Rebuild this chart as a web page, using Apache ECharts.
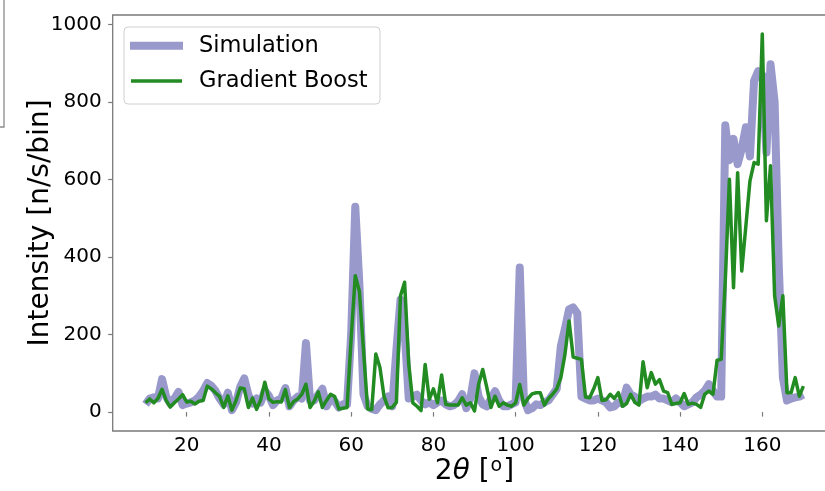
<!DOCTYPE html>
<html>
<head>
<meta charset="utf-8">
<script src="https://cdn.jsdelivr.net/npm/echarts@6/dist/echarts.min.js"></script>
<style>
  html, body { margin: 0; padding: 0; background: #ffffff; }
  #chart { width: 825px; height: 491px; }
</style>
</head>
<body>
<div id="chart"></div>
<script>
// Scattering angle 2θ (degrees)
const angles = [
  10, 11, 12, 13, 14, 15, 16, 17, 18, 19,
  20, 21, 22, 23, 24, 25, 26, 27, 28, 29,
  30, 31, 32, 33, 34, 35, 36, 37, 38, 39,
  40, 41, 42, 43, 44, 45, 46, 47, 48, 49,
  50, 51, 52, 53, 54, 55, 56, 57, 58, 59,
  60, 61, 62, 63, 64, 65, 66, 67, 68, 69,
  70, 71, 72, 73, 74, 75, 76, 77, 78, 79,
  80, 81, 82, 83, 84, 85, 86, 87, 88, 89,
  90, 91, 92, 93, 94, 95, 96, 97, 98, 99,
  100, 101, 102, 103, 104, 105, 106, 107, 108, 109,
  110, 111, 112, 113, 114, 115, 116, 117, 118, 119,
  120, 121, 122, 123, 124, 125, 126, 127, 128, 129,
  130, 131, 132, 133, 134, 135, 136, 137, 138, 139,
  140, 141, 142, 143, 144, 145, 146, 147, 148, 149,
  150, 151, 152, 153, 154, 155, 156, 157, 158, 159,
  160, 161, 162, 163, 164, 165, 166, 167, 168, 169,
  170
];

// Simulated intensity [n/s/bin]
const simulation = [
  20, 35, 38, 35, 85, 40, 22, 35, 52, 18,
  22, 25, 30, 40, 55, 75, 68, 55, 35, 20,
  50, 5, 25, 65, 87, 45, 22, 35, 25, 55,
  42, 18, 30, 35, 62, 15, 30, 40, 35, 178,
  30, 30, 45, 60, 15, 35, 28, 12, 20, 20,
  200, 530, 330, 46, 15, 8, 5, 20, 30, 40,
  15, 160, 290, 210, 35, 40, 45, 30, 20, 25,
  18, 25, 30, 20, 15, 18, 28, 46, 10, 35,
  100, 40, 20, 15, 35, 54, 30, 15, 15, 20,
  25, 373, 35, 5, 10, 20, 18, 25, 30, 45,
  60, 170, 215, 265, 270, 255, 40, 35, 30, 30,
  35, 30, 25, 12, 15, 25, 22, 63, 45, 40,
  28, 35, 40, 40, 45, 35, 35, 30, 25, 35,
  25, 15, 20, 25, 38, 45, 55, 72, 55, 40,
  40, 740, 650, 705, 640, 680, 735, 660, 855, 880,
  870, 670, 898, 800, 380, 90, 30, 35, 38, 40,
  45
];

// Gradient Boost prediction [n/s/bin]
const gradientBoost = [
  24, 34, 24, 35, 59, 30, 13, 24, 34, 45,
  26, 28, 21, 28, 30, 67, 60, 50, 40, 12,
  42, 5, 30, 62, 60, 12, 36, 7, 32, 77,
  34, 25, 27, 26, 58, 12, 27, 34, 46, 72,
  12, 28, 52, 12, 30, 46, 40, 8, 10, 12,
  190, 352, 312, 160, 8, 6, 150, 115, 40, 11,
  12, 25, 300, 335, 124, 24, 15, 4, 123, 33,
  60, 24, 96, 20, 18, 18, 18, 37, 18, 24,
  3, 72, 110, 63, 12, 41, 15, 24, 18, 15,
  24, 71, 18, 35, 47, 50, 50, 18, 35, 46,
  60, 89, 149, 235, 142, 139, 136, 39, 37, 60,
  89, 30, 32, 46, 35, 50, 15, 22, 46, 25,
  18, 130, 63, 102, 72, 84, 54, 50, 20, 22,
  24, 48, 20, 23, 20, 12, 46, 54, 46, 134,
  136, 340, 601, 321, 618, 364, 480, 597, 644, 640,
  976, 494, 636, 300, 222, 300, 50, 50, 89, 41,
  67
];

const xTicks = [20, 40, 60, 80, 100, 120, 140, 160];
const yTicks = [0, 200, 400, 600, 800, 1000];

const FONT = "'DejaVu Sans', sans-serif";
const SPINE = '#7a7a7a';

const chart = echarts.init(document.getElementById('chart'), null, {
  renderer: 'canvas', width: 825, height: 491
});

const pairs = (vals) => angles.map((a, i) => [a, vals[i]]);
const plain = (v) => String(v);

chart.setOption({
  animation: false,
  backgroundColor: '#ffffff',
  grid: {
    left: 112.7, top: 15, width: 723.6, height: 416,
    outerBoundsMode: 'none', containLabel: false,
    show: true, borderColor: SPINE, borderWidth: 1.3,
    backgroundColor: 'transparent'
  },
  xAxis: {
    type: 'value', min: 2, max: 178,
    axisLine: { show: false },
    splitLine: { show: false },
    axisTick: {
      show: true, inside: false, length: 4.5, customValues: xTicks,
      lineStyle: { color: SPINE, width: 1.2 }
    },
    axisLabel: {
      customValues: xTicks, margin: 5, formatter: plain,
      fontFamily: FONT, fontSize: 20, color: '#000'
    },
    name: '{n|2}{t|θ}{n| [}{s|o}{n|]}',
    nameLocation: 'middle', nameGap: 26, nameMoveOverlap: false,
    nameTextStyle: {
      fontFamily: FONT, fontSize: 28, color: '#000',
      rich: {
        n: { fontFamily: FONT, fontSize: 28, color: '#000' },
        t: { fontFamily: FONT, fontSize: 28, fontStyle: 'italic', color: '#000' },
        s: { fontFamily: FONT, fontSize: 19, color: '#000', verticalAlign: 'top', padding: [0, 1, 10, 1] }
      }
    }
  },
  yAxis: {
    type: 'value', min: -48.8, max: 1024.8,
    axisLine: { show: false },
    splitLine: { show: false },
    axisTick: {
      show: true, inside: false, length: 4.5, customValues: yTicks,
      lineStyle: { color: SPINE, width: 1.2 }
    },
    axisLabel: {
      customValues: yTicks, margin: 11, formatter: plain,
      fontFamily: FONT, fontSize: 20, color: '#000'
    },
    name: 'Intensity [n/s/bin]',
    nameLocation: 'middle', nameGap: 58, nameMoveOverlap: false,
    nameTextStyle: { fontFamily: FONT, fontSize: 28, color: '#000' }
  },
  series: [
    {
      name: 'Simulation', type: 'line', data: pairs(simulation),
      symbol: 'none', z: 2,
      lineStyle: { color: '#9999cc', width: 8, join: 'round', cap: 'butt' }
    },
    {
      name: 'Gradient Boost', type: 'line', data: pairs(gradientBoost),
      symbol: 'none', z: 3,
      lineStyle: { color: '#228b22', width: 3.5, join: 'round', cap: 'butt' }
    }
  ],
  graphic: [
    // border of the neighbouring panel at the top-left corner
    {
      type: 'polyline', z: 10, silent: true,
      shape: { points: [[4, 0], [4, 127], [0, 127]] },
      style: { stroke: '#8a8a8a', lineWidth: 1.3, fill: null }
    },
    // legend
    {
      type: 'group', z: 20, silent: true,
      children: [
        {
          type: 'rect',
          shape: { x: 124, y: 27, width: 256, height: 77, r: 4 },
          style: { fill: 'rgba(255,255,255,0.8)', stroke: '#d0d0d0', lineWidth: 1 }
        },
        {
          type: 'line',
          shape: { x1: 130, y1: 45.7, x2: 183, y2: 45.7 },
          style: { stroke: '#9999cc', lineWidth: 8 }
        },
        {
          type: 'line',
          shape: { x1: 131, y1: 81, x2: 182, y2: 81 },
          style: { stroke: '#228b22', lineWidth: 3.5 }
        },
        {
          type: 'text',
          style: { x: 199, y: 46, text: 'Simulation', font: '22.5px ' + FONT, fill: '#000', verticalAlign: 'middle' }
        },
        {
          type: 'text',
          style: { x: 199, y: 81, text: 'Gradient Boost', font: '22.5px ' + FONT, fill: '#000', verticalAlign: 'middle' }
        }
      ]
    }
  ]
});
</script>
</body>
</html>
